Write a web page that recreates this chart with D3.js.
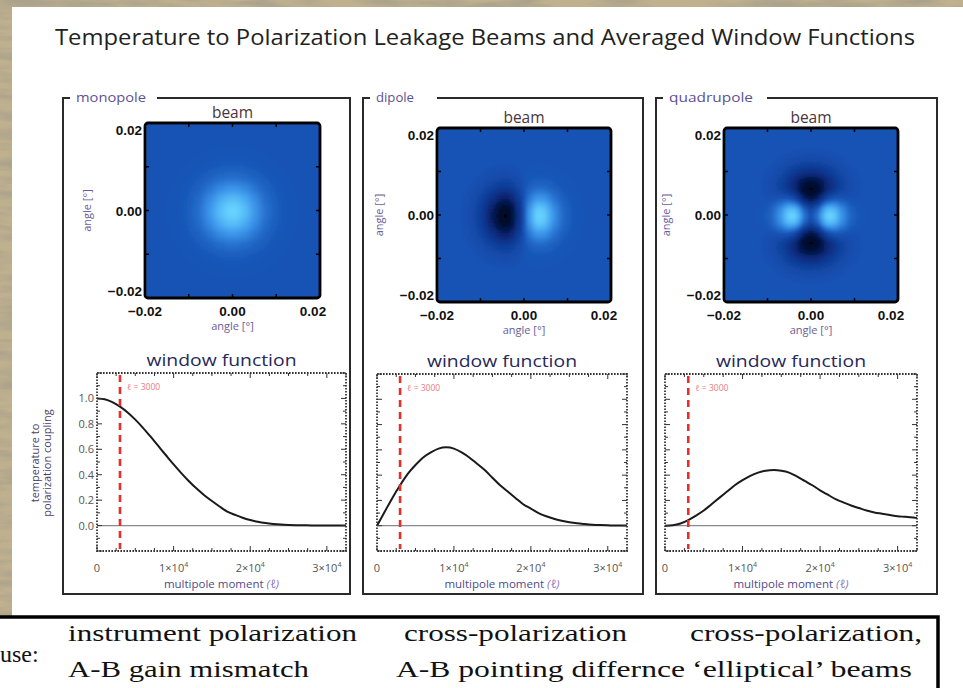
<!DOCTYPE html>
<html lang="en">
<head>
    <meta charset="UTF-8">
    <title>Temperature to Polarization Leakage Beams</title>
    <script src="https://cdn.jsdelivr.net/npm/d3@7"></script>
    <style>
        body { margin: 0; background: #b9aa88; }
        svg { display: block; }
    </style>
</head>
<body>
<svg id="chart" width="963" height="688"></svg>
<script>
    // ---- data ----
    var panelNames = ['monopole', 'dipole', 'quadrupole'];
    var beamOrder = [0, 1, 2];                 // multipole order of each leakage beam
    var beamSigmaPos = [0.0045, 0.0036, 0.0031];  // width of the bright lobes [deg]
    var beamSigmaNeg = [0.0045, 0.0044, 0.0043];  // width of the dark lobes [deg]
    var beamTicks = [-0.02, 0.00, 0.02];
    var beamMinorTicks = [-0.01, 0.00, 0.01];
    var beamTickLabels = ['\u22120.02', '0.00', '0.02'];

    var ell = [0, 1000, 2000, 3000, 4000, 5000, 6000, 7000, 8000, 9000, 10000,
        11000, 12000, 13000, 14000, 15000, 16000, 17000, 18000, 19000, 20000,
        21000, 22000, 23000, 24000, 25000, 26000, 27000, 28000, 29000, 30000, 31000, 32500];
    var wMono = [1.0, 0.993, 0.971, 0.936, 0.89, 0.833, 0.769, 0.699, 0.626, 0.553, 0.481,
        0.413, 0.349, 0.291, 0.239, 0.193, 0.15, 0.11, 0.085, 0.062, 0.044,
        0.030, 0.020, 0.013, 0.008, 0.005, 0.003, 0.002, 0.001, 0.001, 0.0, 0.0, 0.0];
    var wDip = [0.0, 0.11, 0.22, 0.32, 0.41, 0.48, 0.54, 0.58, 0.61, 0.62, 0.61,
        0.58, 0.54, 0.49, 0.44, 0.38, 0.32, 0.27, 0.22, 0.17, 0.135,
        0.10, 0.075, 0.055, 0.04, 0.028, 0.019, 0.013, 0.008, 0.005, 0.003, 0.002, 0.001];
    var wQuad = [0.0, 0.004, 0.018, 0.045, 0.08, 0.12, 0.17, 0.22, 0.27, 0.32, 0.36,
        0.395, 0.42, 0.435, 0.44, 0.435, 0.42, 0.39, 0.355, 0.32, 0.28,
        0.245, 0.21, 0.185, 0.16, 0.14, 0.12, 0.105, 0.095, 0.085, 0.075, 0.07, 0.06];
    var ellMarker = 3000;
    var windowYTicks = [0.0, 0.2, 0.4, 0.6, 0.8, 1.0];
    var windowXTicks = [0, 10000, 20000, 30000];

    var causeLabel = 'use:';
    var causeLine1 = ['instrument polarization', 'cross-polarization', 'cross-polarization,'];
    var causeLine2 = ['A-B gain mismatch', 'A-B pointing differnce', '\u2018elliptical\u2019  beams'];

    // ---- layout ----
    var W = 963, H = 688;
    var frames = [{x0: 63, x1: 350, gap0: 70, gap1: 157},
        {x0: 363, x1: 643, gap0: 370, gap1: 437},
        {x0: 656, x1: 937, gap0: 663, gap1: 767}];
    var labelW = [70, 38, 84];
    var beams = [{x: 145, y: 123, s: 175}, {x: 437, y: 128, s: 174}, {x: 724, y: 128, s: 174}];
    var plots = [{x: 97, y: 373, w: 249, h: 178}, {x: 377, y: 374, w: 250, h: 177}, {x: 665, y: 374, w: 252, h: 177}];
    var causeX1 = [68, 404, 690], causeW1 = [289, 223, 232];
    var causeX2 = [68, 396, 692], causeW2 = [241, 289, 220];

    var svg = d3.select('#chart');
    var defs = svg.append('defs');

    // paper texture of the slide background
    var f = defs.append('filter').attr('id', 'paper')
        .attr('x', 0).attr('y', 0).attr('width', '100%').attr('height', '100%');
    f.append('feTurbulence').attr('type', 'fractalNoise').attr('baseFrequency', '0.02 0.1')
        .attr('numOctaves', 4).attr('seed', 5).attr('result', 'n');
    f.append('feColorMatrix').attr('in', 'n').attr('type', 'matrix')
        .attr('values', '0 0 0 0 0.40  0 0 0 0 0.36  0 0 0 0 0.26  2.2 0 0 0 -0.85');
    var blur = defs.append('filter').attr('id', 'soft');
    blur.append('feGaussianBlur').attr('stdDeviation', 0.9);

    svg.append('rect').attr('width', W).attr('height', H).attr('fill', '#bfb08e');
    svg.append('rect').attr('width', W).attr('height', H).attr('filter', 'url(#paper)');
    svg.append('rect').attr('x', 12).attr('y', 7).attr('width', W - 12).attr('height', H - 7).attr('fill', '#fff');

    svg.append('text')
        .attr('x', 55).attr('y', 45)
        .attr('textLength', 860).attr('lengthAdjust', 'spacingAndGlyphs')
        .style('font-family', 'Open Sans, sans-serif').style('font-size', '21px')
        .attr('fill', '#222')
        .text('Temperature to Polarization Leakage Beams and Averaged Window Functions');

    var beamColor = d3.scaleLinear()
        .domain([-1, -0.5, 0, 0.5, 1])
        .range(['#000620', '#0a2c80', '#1553b5', '#3b94ea', '#66d2ff'])
        .clamp(true);

    function lobe(u, sig, r2, power) {
        // u: signed offset along the lobe axis, normalised to peak 1
        var q = r2 / (2 * sig * sig);
        if (power === 0) return Math.exp(-q);
        if (power === 1) return (u / sig) * Math.exp(0.5 - q);
        return (u * u / (2 * sig * sig)) * Math.exp(1 - q);
    }

    function beamValue(k, ax, ay) {
        var r2 = ax * ax + ay * ay;
        var order = beamOrder[k];
        if (order === 0) return lobe(0, beamSigmaPos[k], r2, 0);
        if (order === 1) return ax > 0 ? lobe(ax, beamSigmaPos[k], r2, 1) : lobe(ax, beamSigmaNeg[k], r2, 1);
        return lobe(ax, beamSigmaPos[k], r2, 2) - lobe(ay, beamSigmaNeg[k], r2, 2);
    }

    var windows = [wMono, wDip, wQuad];
    var N = 80;

    panelNames.forEach(function (name, k) {
        var fr = frames[k];
        var g = svg.append('g');

        // panel frame with the name in the top edge
        g.append('path')
            .attr('d', 'M' + fr.gap0 + ',98 H' + fr.x0 + ' V594 H' + fr.x1 + ' V98 H' + fr.gap1)
            .attr('fill', 'none').attr('stroke', '#2a2a2a').attr('stroke-width', 2);
        g.append('text')
            .attr('x', fr.gap0 + 6).attr('y', 102)
            .attr('textLength', labelW[k]).attr('lengthAdjust', 'spacingAndGlyphs')
            .style('font-family', 'Open Sans, sans-serif').style('font-size', '12px')
            .attr('fill', '#5d5090').text(name);

        // ---- beam ----
        var b = beams[k];
        var xB = d3.scaleLinear().domain([-0.02, 0.02]).range([b.x, b.x + b.s]);
        var yB = d3.scaleLinear().domain([-0.02, 0.02]).range([b.y + b.s, b.y]);
        var step = 0.04 / N;
        var cells = [];
        for (var i = 0; i < N; i++) {
            for (var j = 0; j < N; j++) {
                var ax = -0.02 + (i + 0.5) * step, ay = -0.02 + (j + 0.5) * step;
                cells.push({ax: ax, ay: ay, v: beamValue(k, ax, ay)});
            }
        }
        var cw = xB(step) - xB(0);
        defs.append('clipPath').attr('id', 'clip' + k)
            .append('rect').attr('x', b.x).attr('y', b.y).attr('width', b.s).attr('height', b.s).attr('rx', 3);
        g.append('g').attr('clip-path', 'url(#clip' + k + ')')
            .append('g').attr('filter', 'url(#soft)').attr('shape-rendering', 'crispEdges')
            .selectAll('rect').data(cells).enter().append('rect')
            .attr('x', function (d) { return xB(d.ax - step / 2); })
            .attr('y', function (d) { return yB(d.ay + step / 2); })
            .attr('width', cw + 1).attr('height', cw + 1)
            .attr('fill', function (d) { return beamColor(d.v); });

        var ticks = g.append('g').attr('stroke', '#000').attr('stroke-width', 1.5);
        beamMinorTicks.forEach(function (t) {
            ticks.append('line').attr('x1', xB(t)).attr('x2', xB(t)).attr('y1', b.y).attr('y2', b.y + 4);
            ticks.append('line').attr('x1', xB(t)).attr('x2', xB(t)).attr('y1', b.y + b.s).attr('y2', b.y + b.s - 4);
            ticks.append('line').attr('y1', yB(t)).attr('y2', yB(t)).attr('x1', b.x).attr('x2', b.x + 4);
            ticks.append('line').attr('y1', yB(t)).attr('y2', yB(t)).attr('x1', b.x + b.s).attr('x2', b.x + b.s - 4);
        });
        g.append('rect').attr('x', b.x).attr('y', b.y).attr('width', b.s).attr('height', b.s).attr('rx', 3)
            .attr('fill', 'none').attr('stroke', '#000').attr('stroke-width', 2.8);

        g.append('text').attr('x', b.x + b.s / 2).attr('y', b.y - 5).attr('text-anchor', 'middle')
            .style('font-family', 'Open Sans, sans-serif').style('font-size', '15.5px')
            .attr('fill', '#4a3440').text('beam');

        var tickFont = 'Liberation Sans, Arial, sans-serif';
        var yOff = [-2, 5, 12];
        beamTicks.forEach(function (t, i) {
            g.append('text').attr('x', b.x - 3).attr('y', yB(t) + yOff[i]).attr('text-anchor', 'end')
                .style('font-family', tickFont).style('font-size', '13.5px').style('font-weight', 'bold')
                .attr('fill', '#111').text(beamTickLabels[i]);
            g.append('text').attr('x', xB(t) + (i === 2 ? -7 : 0)).attr('y', b.y + b.s + 18).attr('text-anchor', 'middle')
                .style('font-family', tickFont).style('font-size', '13.5px').style('font-weight', 'bold')
                .attr('fill', '#111').text(beamTickLabels[i]);
        });
        g.append('text').attr('x', b.x + b.s / 2).attr('y', b.y + b.s + 32).attr('text-anchor', 'middle')
            .style('font-family', 'Open Sans, sans-serif').style('font-size', '11px')
            .attr('fill', '#6a5c9a').text('angle [\u00b0]');
        g.append('text')
            .attr('transform', 'translate(' + (b.x - 54) + ',' + (b.y + b.s / 2) + ') rotate(-90)')
            .attr('text-anchor', 'middle')
            .style('font-family', 'Open Sans, sans-serif').style('font-size', '11px')
            .attr('fill', '#6a5c9a').text('angle [\u00b0]');

        // ---- window function ----
        var p = plots[k];
        var xW = d3.scaleLinear().domain([0, 32500]).range([p.x, p.x + p.w]);
        var yW = d3.scaleLinear().domain([-0.2, 1.2]).range([p.y + p.h, p.y]);

        g.append('text').attr('x', p.x + p.w / 2).attr('y', p.y - 7).attr('text-anchor', 'middle')
            .attr('textLength', 150).attr('lengthAdjust', 'spacingAndGlyphs')
            .style('font-family', 'Open Sans, sans-serif').style('font-size', '16.5px')
            .attr('fill', '#26285a').text('window function');

        g.append('line').attr('x1', p.x).attr('x2', p.x + p.w).attr('y1', yW(0)).attr('y2', yW(0))
            .attr('stroke', '#8a8a8a').attr('stroke-width', 1.2);

        var line = d3.line()
            .x(function (d, i) { return xW(ell[i]); })
            .y(function (d) { return yW(d); })
            .curve(d3.curveMonotoneX);
        g.append('path').attr('d', line(windows[k]))
            .attr('fill', 'none').attr('stroke', '#1a1a1a').attr('stroke-width', 2);

        g.append('line').attr('x1', xW(ellMarker)).attr('x2', xW(ellMarker))
            .attr('y1', p.y + 2).attr('y2', p.y + p.h - 2)
            .attr('stroke', '#e5302a').attr('stroke-width', 2.6).attr('stroke-dasharray', '7,5');
        var ml = g.append('text').attr('x', xW(ellMarker) + 7).attr('y', p.y + 17)
            .style('font-family', 'Open Sans, sans-serif').style('font-size', '8.5px').attr('fill', '#ee7b7b');
        ml.append('tspan').style('font-style', 'italic').text('\u2113');
        ml.append('tspan').text(' = ' + ellMarker);

        // frame with dense ticks
        var wt = g.append('g').attr('stroke', '#333').attr('stroke-width', 1);
        d3.range(0, 32501, 2500).forEach(function (v) {
            var len = v % 10000 === 0 ? 5 : 3;
            wt.append('line').attr('x1', xW(v)).attr('x2', xW(v)).attr('y1', p.y).attr('y2', p.y + len);
            wt.append('line').attr('x1', xW(v)).attr('x2', xW(v)).attr('y1', p.y + p.h).attr('y2', p.y + p.h - len);
        });
        d3.range(-0.2, 1.21, 0.1).forEach(function (v) {
            var len = Math.abs(Math.round(v * 10)) % 2 === 0 ? 5 : 3;
            wt.append('line').attr('y1', yW(v)).attr('y2', yW(v)).attr('x1', p.x).attr('x2', p.x + len);
            wt.append('line').attr('y1', yW(v)).attr('y2', yW(v)).attr('x1', p.x + p.w).attr('x2', p.x + p.w - len);
        });
        g.append('rect').attr('x', p.x).attr('y', p.y).attr('width', p.w).attr('height', p.h)
            .attr('fill', 'none').attr('stroke', '#333').attr('stroke-width', 1.8)
            .attr('stroke-dasharray', '1.6,1.4');

        windowXTicks.forEach(function (v) {
            var t = g.append('text').attr('x', xW(v)).attr('y', p.y + p.h + 21).attr('text-anchor', 'middle')
                .style('font-family', 'Open Sans, sans-serif').style('font-size', '11px').attr('fill', '#555');
            if (v === 0) { t.text('0'); return; }
            t.append('tspan').text((v / 10000) + '\u00d710');
            t.append('tspan').attr('dy', -5).style('font-size', '7px').text('4');
        });
        var xl = g.append('text').attr('x', p.x + p.w / 2).attr('y', p.y + p.h + 37).attr('text-anchor', 'middle')
            .style('font-family', 'Open Sans, sans-serif').style('font-size', '11.5px').attr('fill', '#4d4b88');
        xl.append('tspan').text('multipole moment ');
        xl.append('tspan').attr('fill', '#8a70c0').style('font-style', 'italic').text('(\u2113)');

        if (k === 0) {
            windowYTicks.forEach(function (v) {
                g.append('text').attr('x', p.x - 3).attr('y', yW(v) + 4).attr('text-anchor', 'end')
                    .style('font-family', 'Open Sans, sans-serif').style('font-size', '11px')
                    .attr('fill', '#555').text(v.toFixed(1));
            });
            var yt = g.append('text').attr('transform', 'translate(0,463) rotate(-90)')
                .attr('text-anchor', 'middle')
                .style('font-family', 'Open Sans, sans-serif').style('font-size', '11px').attr('fill', '#4a3f6e');
            yt.append('tspan').attr('x', 0).attr('y', 39).text('temperature to');
            yt.append('tspan').attr('x', 0).attr('y', 51).text('polarization coupling');
        }
    });

    // ---- cause box ----
    svg.append('rect').attr('x', -3).attr('y', 617).attr('width', 941).attr('height', 90)
        .attr('fill', '#fff').attr('stroke', '#000').attr('stroke-width', 3.5);
    var serif = 'Liberation Serif, Times New Roman, serif';
    svg.append('text').attr('x', 0).attr('y', 662)
        .style('font-family', serif).style('font-size', '24px').attr('fill', '#111').text(causeLabel);
    causeLine1.forEach(function (t, i) {
        svg.append('text').attr('x', causeX1[i]).attr('y', 641)
            .attr('textLength', causeW1[i]).attr('lengthAdjust', 'spacingAndGlyphs')
            .style('font-family', serif).style('font-size', '24px').attr('fill', '#111').text(t);
    });
    causeLine2.forEach(function (t, i) {
        svg.append('text').attr('x', causeX2[i]).attr('y', 677)
            .attr('textLength', causeW2[i]).attr('lengthAdjust', 'spacingAndGlyphs')
            .style('font-family', serif).style('font-size', '24px').attr('fill', '#111').text(t);
    });
</script>
</body>
</html>
